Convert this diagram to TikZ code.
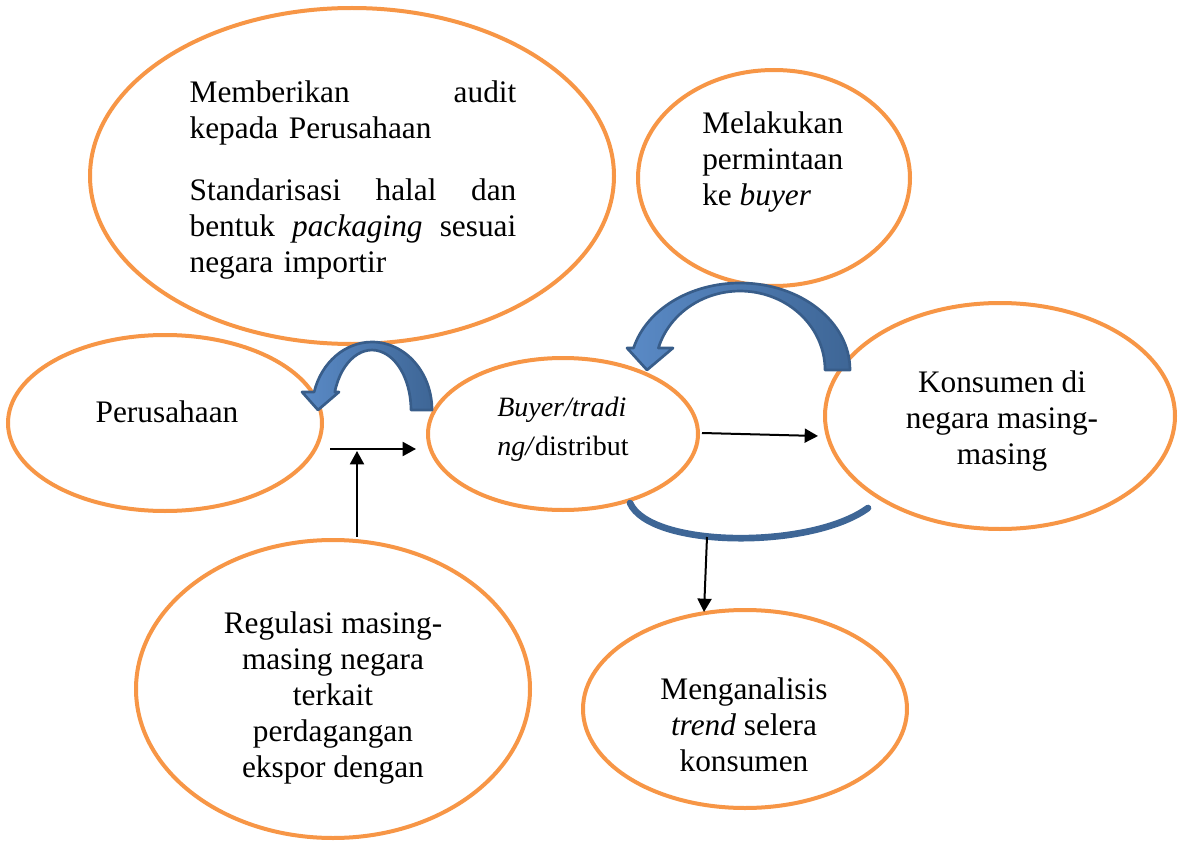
\documentclass[tikz,border=0pt]{standalone}
\usepackage{fontspec}
\setmainfont{Liberation Serif}
\usetikzlibrary{shapes.geometric,arrows.meta}
\definecolor{orng}{HTML}{F79646}
\definecolor{blueL}{HTML}{5A8AC6}
\definecolor{blueD}{HTML}{3E6696}
\definecolor{blueE}{HTML}{385D8A}
\tikzset{
  oval/.style={ellipse, draw=orng, line width=3pt, fill=white, inner sep=0pt},
  txt/.style={font=\fontsize{23.5pt}{27pt}\selectfont, inner sep=0pt},
  conn/.style={line width=1.5pt, -{Triangle[length=10pt,width=10.5pt]}},
  bigarrow/.style={draw=blueE, line width=2pt, line join=round, left color=blueL, right color=blueD},
}
\begin{document}
\begin{tikzpicture}[x=0.75pt,y=-0.75pt]
\useasboundingbox (0,0) rectangle (1179,842);
% ellipses
\node[oval, minimum width=524*0.75pt, minimum height=336*0.75pt] (audit) at (352,176) {};
\node[oval, minimum width=272*0.75pt, minimum height=216*0.75pt] (minta) at (774,178) {};
\node[oval, minimum width=314*0.75pt, minimum height=176*0.75pt] (pers) at (165,423) {};
\node[oval, minimum width=270*0.75pt, minimum height=152*0.75pt] (buyer) at (563,434) {};
\node[oval, minimum width=350*0.75pt, minimum height=226*0.75pt] (kons) at (1000,416) {};
\node[oval, minimum width=394*0.75pt, minimum height=298*0.75pt] (reg) at (333,689) {};
\node[oval, minimum width=324*0.75pt, minimum height=198*0.75pt] (anal) at (745,709) {};
% texts
\node[txt, text width=245pt, align=left] (tAudit) at (353,180) {Memberikan\hfill audit\\ kepada Perusahaan\\[20pt]Standarisasi\hfill halal\hfill dan\\ bentuk\hfill\textit{packaging}\hfill sesuai\\ negara importir};
\node[txt, align=left, anchor=west] (tMinta) at (702,162) {Melakukan\\ permintaan\\ ke \textit{buyer}};
\node[txt] (tPers) at (167,412) {Perusahaan};
\node[font=\fontsize{21pt}{29.5pt}\selectfont, inner sep=0pt, align=left, anchor=west] (tBuyer) at (497,429) {\textit{Buyer/tradi}\\ \textit{ng/}distribut};
\node[txt, align=center] (tKons) at (1002,421) {Konsumen di\\ negara masing-\\ masing};
\node[txt, align=center] (tReg) at (333,698) {Regulasi masing-\\ masing negara\\ terkait\\ perdagangan\\ ekspor dengan};
\node[txt, align=center] (tAnal) at (744,725) {Menganalisis\\ \textit{trend} selera\\ konsumen};
% curved block arrows
\path[bigarrow] (432,410) arc[start angle=0, end angle=164.6, x radius=45pt, y radius=51pt]
  -- (302,392) -- (318,410) -- (339,392) -- (334.8,392)
  arc[start angle=162.5, end angle=0, x radius=29.25pt, y radius=45pt] -- cycle;
\path[bigarrow] (850,370) arc[start angle=0, end angle=165.3, x radius=82.5pt, y radius=65.25pt]
  -- (627,348) -- (647,370) -- (673,348) -- (658.4,348)
  arc[start angle=163.8, end angle=0, x radius=63.75pt, y radius=59.25pt] -- cycle;
\coordinate (cL) at (630,503);
\coordinate (cR) at (868,508);
\draw[blueD, line width=5pt, line cap=round] (cL) .. controls (650,548) and (810,550) .. (cR);
% straight connectors
\coordinate (h1) at (330,449);
\coordinate (h2) at (416,449);
\coordinate (v1) at (357,537);
\coordinate (v2) at (357,451);
\coordinate (b1) at (702,433);
\coordinate (b2) at (818,436);
\coordinate (d1) at (707,537);
\coordinate (d2) at (704,612);
\draw[conn] (h1) -- (h2);
\draw[conn] (v1) -- (v2);
\draw[conn] (b1) -- (b2);
\draw[conn] (d1) -- (d2);
\end{tikzpicture}
\end{document}
